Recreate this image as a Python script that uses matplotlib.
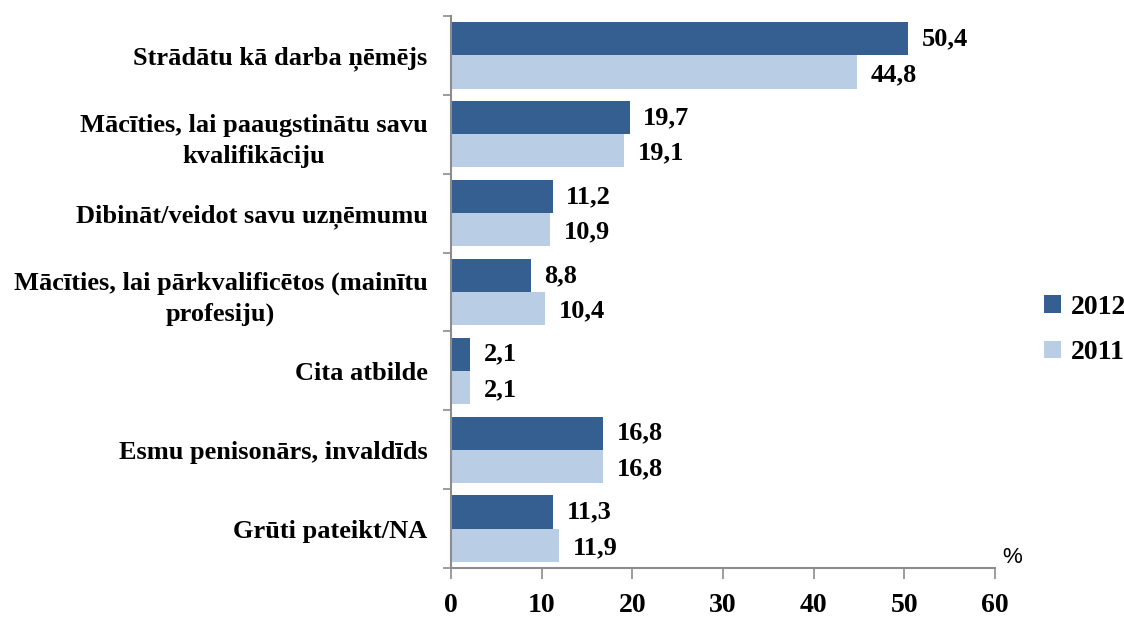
import matplotlib.pyplot as plt
import numpy as np

# Donnees
categories = ['Strādātu kā darba ņēmējs',
              'Mācīties, lai paaugstinātu savu\nkvalifikāciju',
              'Dibināt/veidot savu uzņēmumu',
              'Mācīties, lai pārkvalificētos (mainītu\nprofesiju)',
              'Cita atbilde',
              'Esmu penisonārs, invaldīds',
              'Grūti pateikt/NA']
vals_2012 = [50.4, 19.7, 11.2, 8.8, 2.1, 16.8, 11.3]
vals_2011 = [44.8, 19.1, 10.9, 10.4, 2.1, 16.8, 11.9]
x_ticks = [0, 10, 20, 30, 40, 50, 60]

plt.rcParams['font.family'] = ['Liberation Serif', 'DejaVu Serif']

fig = plt.figure(figsize=(11.24, 6.17), dpi=100)
ax = fig.add_axes([451/1124, 1 - 568/617, (995 - 451)/1124, (568 - 16)/617])

n = len(categories)
y = np.arange(n)
h = 0.42
ax.barh(y - h/2, vals_2012, height=h, color='#355f91', label='2012')
ax.barh(y + h/2, vals_2011, height=h, color='#b9cde5', label='2011')

for i in range(n):
    ax.text(vals_2012[i] + 1.5, y[i] - h/2, f'{vals_2012[i]:.1f}'.replace('.', ','),
            va='center', ha='left', fontsize=19, fontweight='bold')
    ax.text(vals_2011[i] + 1.5, y[i] + h/2 + 0.03, f'{vals_2011[i]:.1f}'.replace('.', ','),
            va='center', ha='left', fontsize=19, fontweight='bold')

ax.set_xlim(0, 60)
ax.set_ylim(n - 0.5, -0.5)
ax.set_xticks(x_ticks)
ax.set_xticklabels([str(t) for t in x_ticks], fontsize=20, fontweight='bold')
ax.set_yticks(np.arange(-0.5, n, 1.0), minor=False)
ax.set_yticklabels([])
ax.set_yticks(y, minor=True)
ax.set_yticklabels(categories, minor=True, fontsize=19, fontweight='bold',
                   ha='right', multialignment='center', linespacing=1.45)
ax.tick_params(axis='y', which='minor', length=0, pad=17)
ax.tick_params(axis='y', which='major', length=6, color='#8c8c8c', width=1.2)
ax.tick_params(axis='x', length=8, color='#8c8c8c', width=1.2, pad=10)

for s in ['top', 'right']:
    ax.spines[s].set_visible(False)
for s in ['left', 'bottom']:
    ax.spines[s].set_color('#8c8c8c')
    ax.spines[s].set_linewidth(1.5)

ax.text(1.013, 0.0, '%', transform=ax.transAxes, fontsize=16,
        family='Liberation Sans', ha='left', va='bottom')

leg = fig.legend(loc='center left', bbox_to_anchor=(1044/1124, 1 - 330/617),
                 frameon=False, prop={'family': 'Liberation Serif', 'weight': 'bold', 'size': 20},
                 handlelength=0.6, handleheight=0.6, handletextpad=0.35, labelspacing=0.75,
                 borderaxespad=0, borderpad=0)

fig.savefig('out.png', dpi=100)
